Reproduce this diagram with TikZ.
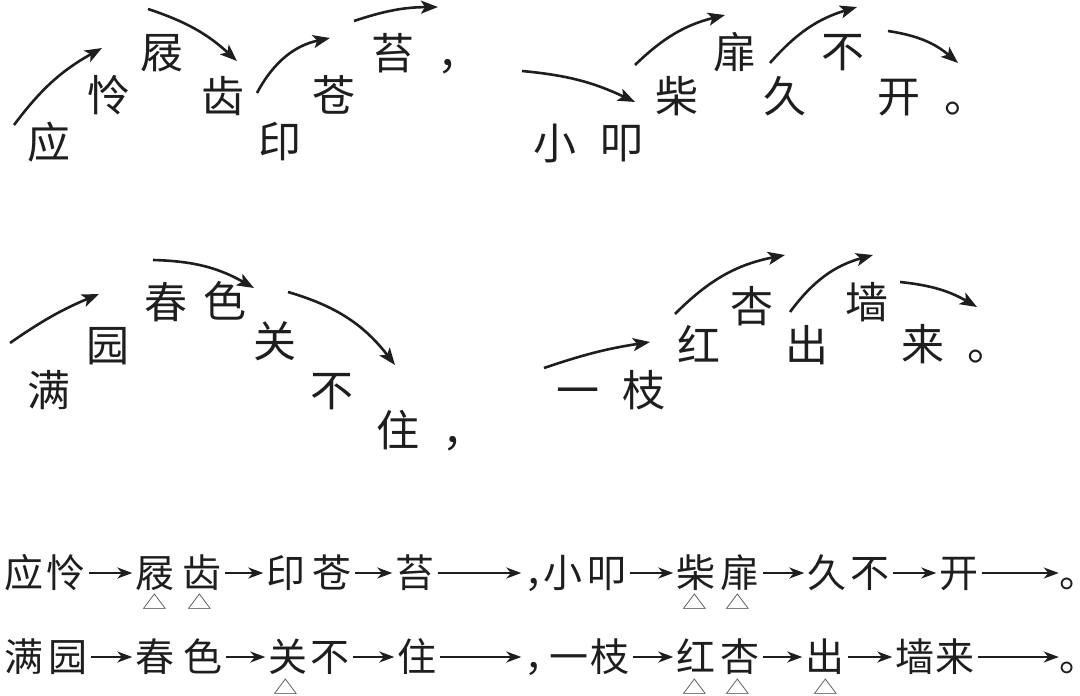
\documentclass[tikz,border=0pt]{standalone}
\usepackage{fontspec}
\usepackage{graphicx}
\newfontfamily\cjk{Noto Sans CJK SC}
\usetikzlibrary{arrows.meta}
\definecolor{ink}{HTML}{1E1E1E}
\begin{document}
\begin{tikzpicture}[x=1pt,y=-1pt,
  big/.style={font=\cjk\fontsize{43}{43}\selectfont, inner sep=0pt, text height=36pt, text depth=3.5pt, text=ink},
  sm/.style={font=\cjk\fontsize{39}{39}\selectfont, inner sep=0pt, text height=33pt, text depth=3.5pt, text=ink},
  tri/.style={font=\cjk\fontsize{19}{19}\selectfont, inner sep=0pt, text height=13.4pt, text depth=0pt, text=black!70},
  curv/.style={line width=2.6pt, draw=ink, -{Stealth[length=17pt,width=13pt,inset=4pt]}},
  flat/.style={line width=1.8pt, draw=ink, -{Stealth[length=15pt,width=11pt,inset=4.5pt]}, shorten <=3pt, shorten >=3pt}]
\useasboundingbox (0,0) rectangle (1080,696);
% ---------- top block, line 1
\node[big] (a1) at (49,142) {应};
\node[big] (a2) at (109,95) {怜};
\node[big] (a3) at (162,52) {屐};
\node[big] (a4) at (223,96) {齿};
\node[big] (a5) at (280,141) {印};
\node[big] (a6) at (334,95) {苍};
\node[big] (a7) at (393,53) {苔};
\node[big] (a8) at (459,53) {，};
\node[big] (b1) at (555,143) {小};
\node[big] (b2) at (622,142) {叩};
\node[big] (b3) at (677,96) {柴};
\node[big] (b4) at (735,52) {扉};
\node[big] (b5) at (785,96) {久};
\node[big] (b6) at (843,51) {不};
\node[big] (b7) at (899,96) {开};
\node[big] (b8) at (966,96) {。};
% ---------- top block, line 2
\node[big] (c1) at (49,390) {满};
\node[big] (c2) at (108,345) {园};
\node[big] (c3) at (166,302) {春};
\node[big] (c4) at (225,301) {色};
\node[big] (c5) at (275,341) {关};
\node[big] (c6) at (332,390) {不};
\node[big] (c7) at (398,430) {住};
\node[big] (c8) at (464,430) {，};
\node[big] (d1) at (578,390) {一};
\node[big] (d2) at (644,390) {枝};
\node[big] (d3) at (699,345) {红};
\node[big] (d4) at (752,306) {杏};
\node[big] (d5) at (807,345) {出};
\node[big] (d6) at (867,302) {墙};
\node[big] (d7) at (923,344) {来};
\node[big] (d8) at (989,344) {。};
% ---------- curved arrows
\coordinate (p1s) at (14,125);  \coordinate (p1e) at (102,48);
\coordinate (p2s) at (148,9);   \coordinate (p2e) at (237,61);
\coordinate (p3s) at (257,93);  \coordinate (p3e) at (330,38);
\coordinate (p4s) at (354,21);  \coordinate (p4e) at (438,7);
\coordinate (p5s) at (522,71);  \coordinate (p5e) at (635,102);
\coordinate (p6s) at (635,65);  \coordinate (p6e) at (725,15);
\coordinate (p7s) at (770,63);  \coordinate (p7e) at (857,7);
\coordinate (p8s) at (888,31);  \coordinate (p8e) at (958,63);
\coordinate (q1s) at (10,343);  \coordinate (q1e) at (99,294);
\coordinate (q2s) at (153,260); \coordinate (q2e) at (254,288);
\coordinate (q3s) at (288,292); \coordinate (q3e) at (395,365);
\coordinate (q4s) at (544,368); \coordinate (q4e) at (650,342);
\coordinate (q5s) at (675,314); \coordinate (q5e) at (785,255);
\coordinate (q6s) at (790,312); \coordinate (q6e) at (873,255);
\coordinate (q7s) at (900,282); \coordinate (q7e) at (977,307);
\draw[curv] (p1s) to[bend left=12] (p1e);
\draw[curv] (p2s) to[bend left=12] (p2e);
\draw[curv] (p3s) to[bend left=25] (p3e);
\draw[curv] (p4s) to[bend left=9] (p4e);
\draw[curv] (p5s) to[bend left=10] (p5e);
\draw[curv] (p6s) to[bend left=15] (p6e);
\draw[curv] (p7s) to[bend left=16] (p7e);
\draw[curv] (p8s) to[bend left=16] (p8e);
\draw[curv] (q1s) to[bend left=6] (q1e);
\draw[curv] (q2s) to[bend left=14] (q2e);
\draw[curv] (q3s) to[bend left=18] (q3e);
\draw[curv] (q4s) to[bend left=5] (q4e);
\draw[curv] (q5s) to[bend left=17] (q5e);
\draw[curv] (q6s) to[bend left=19] (q6e);
\draw[curv] (q7s) to[bend left=12] (q7e);
% ---------- bottom line 1
\node[sm] (e1) at (24,573) {应};
\node[sm] (e2) at (66,573) {怜};
\node[sm] (e3) at (155,573) {屐};
\node[sm] (e4) at (202,573) {齿};
\node[sm] (e5) at (286,573) {印};
\node[sm] (e6) at (332,573) {苍};
\node[sm] (e7) at (415,573) {苔};
\node[sm] (e8) at (544,573) {，};
\node[sm] (f1) at (563,573) {小};
\node[sm] (f2) at (607,573) {叩};
\node[sm] (f3) at (696,573) {柴};
\node[sm] (f4) at (740,573) {扉};
\node[sm] (f5) at (827,573) {久};
\node[sm] (f6) at (870,573) {不};
\node[sm] (f7) at (959,573) {开};
\node[sm] (f8) at (1065,573) {\makebox[12pt][l]{。}};
\draw[flat] (e2) -- (e3);
\draw[flat] (e4) -- (e5);
\draw[flat] (e6) -- (e7);
\draw[flat] (e7) -- (e8);
\draw[flat] (f2) -- (f3);
\draw[flat] (f4) -- (f5);
\draw[flat] (f6) -- (f7);
\draw[flat, shorten >=0pt] (f7) -- (f8);
% ---------- bottom line 2
\node[sm] (g1) at (24,657) {满};
\node[sm] (g2) at (68,657) {园};
\node[sm] (g3) at (155,657) {春};
\node[sm] (g4) at (203,657) {色};
\node[sm] (g5) at (288,657) {关};
\node[sm] (g6) at (330,657) {不};
\node[sm] (g7) at (417,657) {住};
\node[sm] (g8) at (544,657) {，};
\node[sm] (h1) at (569,657) {一};
\node[sm] (h2) at (610,657) {枝};
\node[sm] (h3) at (696,657) {红};
\node[sm] (h4) at (740,657) {杏};
\node[sm] (h5) at (825,657) {出};
\node[sm] (h6) at (915,657) {墙};
\node[sm] (h7) at (955,657) {来};
\node[sm] (h8) at (1065,657) {\makebox[12pt][l]{。}};
\draw[flat] (g2) -- (g3);
\draw[flat] (g4) -- (g5);
\draw[flat] (g6) -- (g7);
\draw[flat] (g7) -- (g8);
\draw[flat] (h2) -- (h3);
\draw[flat] (h4) -- (h5);
\draw[flat] (h5) -- (h6);
\draw[flat, shorten >=0pt] (h7) -- (h8);
% ---------- emphasis triangles
\node[tri] (t1) at (155,603) {\scalebox{1.3}[1]{△}};
\node[tri] (t2) at (200,603) {\scalebox{1.3}[1]{△}};
\node[tri] (t3) at (695,603) {\scalebox{1.3}[1]{△}};
\node[tri] (t4) at (738,603) {\scalebox{1.3}[1]{△}};
\node[tri] (t5) at (286,688) {\scalebox{1.3}[1]{△}};
\node[tri] (t6) at (695,688) {\scalebox{1.3}[1]{△}};
\node[tri] (t7) at (738,688) {\scalebox{1.3}[1]{△}};
\node[tri] (t8) at (826,688) {\scalebox{1.3}[1]{△}};
\end{tikzpicture}
\end{document}
